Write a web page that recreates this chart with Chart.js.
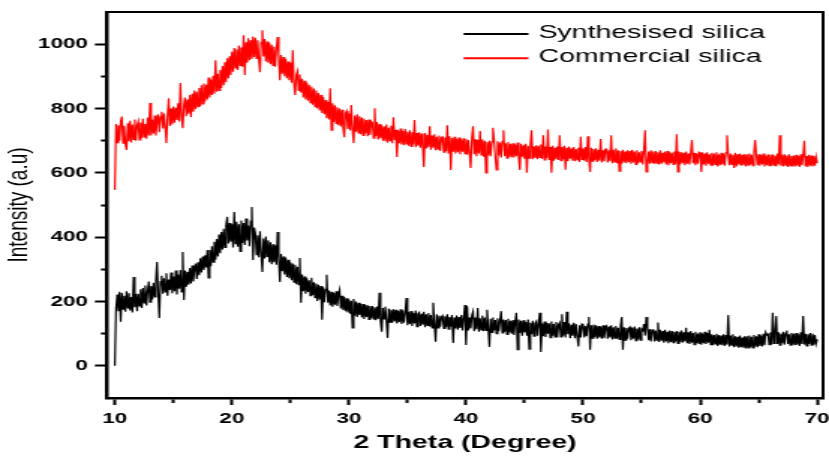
<!DOCTYPE html>
<html>
<head>
<meta charset="utf-8">
<script src="https://cdn.jsdelivr.net/npm/chart.js@4/dist/chart.umd.min.js"></script>
<style>
  html, body { margin: 0; padding: 0; background: #fff; overflow: hidden; }
  #wrap { width: 553px; height: 456px; transform: scaleX(1.4991); transform-origin: 0 0; }
</style>
</head>
<body>
<div id="wrap"><canvas id="c"></canvas></div>
<script>
// ---- data ----
const seriesNames = ['Synthesised silica', 'Commercial silica'];
const seriesColors = ['#000000', '#ff0000'];

// scan grid: 10 to 70 degrees, 0.1 degree step
const twoTheta = Array.from({ length: 601 }, (_, i) => +(10 + i * 0.1).toFixed(1));

const synthesised = [
  0,178,222,170,230,137,226,176,218,168,232,180,226,172,214,166,276,182,224,170,
  224,186,238,180,242,196,250,188,232,262,198,248,206,258,214,266,323,228,149,262,
  280,224,272,230,288,218,268,236,290,226,278,232,296,222,284,240,298,230,354,205,
  296,246,292,252,304,256,312,262,300,318,270,322,282,334,290,340,298,344,306,360,
  273,360,310,372,322,386,330,394,340,408,350,416,362,426,368,436,463,380,444,386,
  440,368,478,380,448,370,440,356,452,382,444,376,458,390,436,372,450,494,329,430,
  412,346,406,338,418,350,292,396,334,402,340,390,322,384,316,378,322,374,314,416,
  334,261,348,294,340,284,336,276,330,272,322,266,318,260,314,254,308,252,335,196,
  284,232,278,224,272,230,266,218,274,220,260,212,256,202,252,206,248,143,244,198,
  238,283,196,234,188,230,184,226,190,232,186,222,236,178,218,174,214,170,210,166,
  206,162,202,118,208,156,200,152,196,158,194,150,192,146,190,152,188,144,186,148,
  186,146,182,142,184,146,227,138,106,180,146,184,140,87,178,136,174,134,176,138,
  174,132,170,136,176,130,172,134,164,211,126,168,130,170,124,164,132,172,122,162,
  166,124,162,128,168,120,160,126,164,122,158,118,196,130,75,160,118,156,122,152,
  156,116,154,120,160,114,152,122,158,71,150,116,156,112,152,118,158,110,150,189,
  65,185,110,150,116,156,168,108,150,114,180,106,148,112,156,108,150,110,174,118,
  59,146,104,150,110,142,100,148,108,140,170,102,144,106,142,98,146,104,140,100,
  142,96,138,165,50,144,102,140,94,142,104,136,94,144,52,134,98,140,92,132,
  138,94,134,165,43,132,92,138,90,134,100,132,88,138,94,130,90,136,88,128,
  134,90,160,94,136,88,168,98,132,86,128,94,134,86,130,92,60,126,88,130,
  128,88,124,92,130,152,50,126,86,128,90,126,84,124,88,122,84,126,86,120,
  124,84,122,88,126,82,120,86,124,84,118,82,122,152,50,120,80,118,84,116,
  120,80,118,84,122,78,116,82,120,80,114,110,130,94,152,118,80,114,76,112,
  114,76,110,80,135,74,112,78,108,72,112,76,106,70,110,74,108,72,106,76,
  108,70,106,74,110,72,104,76,118,70,104,68,108,72,102,66,106,70,100,68,
  104,66,100,70,106,68,102,72,112,66,98,64,96,68,100,62,96,66,94,64,
  98,62,96,66,158,60,94,64,98,58,92,60,90,56,94,58,88,56,92,54,
  92,56,94,58,90,56,96,60,92,58,98,62,94,60,100,64,104,96,98,66,
  104,66,165,70,100,155,68,104,64,100,70,106,66,102,110,68,98,64,102,66,
  100,64,102,66,98,62,104,68,155,66,100,62,98,68,102,64,100,66,96,68,
  82
];

const commercial = [
  547,752,694,748,700,760,775,692,746,688,671,754,698,762,694,750,704,766,700,748,
  760,702,756,708,768,712,752,706,772,716,817,716,766,722,778,716,758,782,726,774,
  790,738,784,742,693,780,832,746,800,750,806,756,802,764,816,760,879,776,739,812,
  834,776,828,784,842,774,846,790,856,798,852,806,864,808,872,814,878,822,874,828,
  896,834,890,842,902,846,950,852,908,856,920,864,932,872,944,882,956,894,962,904,
  976,914,988,926,984,920,996,934,990,930,1028,904,1006,942,1018,950,1012,954,1024,960,
  1020,956,1012,952,913,1006,1043,962,1016,946,1008,942,1004,938,998,934,992,930,986,1022,
  962,888,966,908,960,900,954,894,946,888,942,880,981,876,842,904,916,856,906,850,
  892,834,886,828,880,824,874,818,868,812,862,806,856,800,848,794,842,786,836,782,
  826,770,820,766,863,733,816,758,810,754,804,748,800,744,796,740,711,786,792,736,
  784,732,811,736,693,778,728,782,724,776,720,772,716,768,722,764,714,766,718,760,
  756,708,801,714,758,704,752,708,748,700,744,698,750,694,740,700,746,692,773,702,
  734,649,732,692,738,688,730,686,736,690,728,684,732,682,726,688,764,680,724,684,
  726,678,722,682,618,724,676,718,680,745,672,716,678,720,670,712,674,716,668,710,
  712,664,710,668,748,662,714,609,708,666,712,660,706,664,710,658,704,666,708,660,
  706,656,702,662,615,708,745,658,704,652,702,660,730,656,704,650,700,600,696,654,
  700,652,696,740,702,650,609,698,654,694,648,698,732,652,692,646,696,650,690,648,
  692,648,688,652,694,646,609,690,650,686,644,690,600,684,646,688,732,642,682,646,
  686,642,684,648,688,644,717,640,682,646,735,640,680,600,684,638,678,642,682,640,
  717,638,680,642,684,610,678,636,682,644,676,638,680,636,674,640,678,634,712,642,
  676,638,680,634,714,642,603,678,636,674,640,676,634,672,638,705,632,670,636,674,
  674,632,670,636,717,630,672,634,676,630,670,605,668,628,672,632,666,630,670,634,
  668,628,672,632,666,626,670,630,664,634,668,626,672,732,603,630,666,628,670,632,
  666,628,668,630,664,626,670,628,662,632,666,626,668,624,664,630,662,626,666,628,
  720,603,666,626,664,630,662,624,666,628,660,626,664,702,630,662,624,660,628,664,
  662,603,664,626,660,622,664,628,658,624,662,622,660,626,664,620,658,624,662,626,
  660,622,662,717,658,624,660,626,656,615,662,620,658,626,660,622,656,624,658,620,
  658,624,660,626,656,622,662,702,654,624,658,622,656,626,660,620,654,624,658,622,
  656,622,658,624,654,620,660,626,717,622,656,620,658,624,654,618,658,622,652,620,
  654,620,656,622,652,618,658,624,654,700,620,652,618,656,622,654,620,652,622,650,
  630
];

const xTickLabels = [10, 20, 30, 40, 50, 60, 70];
const xMinorTicks = [15, 25, 35, 45, 55, 65];
const yTickLabels = [0, 200, 400, 600, 800, 1000];
const yMinorTicks = [100, 300, 500, 700, 900];

// ---- chart ----
const FONT = "'Liberation Sans', Arial, Helvetica, sans-serif";
Chart.defaults.font.family = FONT;
Chart.defaults.color = '#000';

const toPoints = (ys) => twoTheta.map((x, i) => ({ x: x, y: ys[i] }));

const insideLegend = {
  id: 'insideLegend',
  afterDraw(chart, args, opts) {
    const { ctx, chartArea } = chart;
    ctx.save();
    ctx.font = opts.font;
    ctx.textBaseline = 'middle';
    ctx.textAlign = 'left';
    chart.data.datasets.forEach((ds, i) => {
      const y = chartArea.top + opts.top + i * opts.rowHeight;
      const x0 = chartArea.right - opts.right;
      ctx.strokeStyle = ds.borderColor;
      ctx.lineWidth = opts.lineWidth;
      ctx.beginPath();
      ctx.moveTo(x0, y);
      ctx.lineTo(x0 + opts.lineLength, y);
      ctx.stroke();
      ctx.fillStyle = '#000';
      ctx.fillText(ds.label, x0 + opts.lineLength + opts.gap, y - 1.5);
    });
    ctx.restore();
  }
};

const frame = {
  id: 'frame',
  afterDraw(chart, args, opts) {
    const { ctx, chartArea } = chart;
    ctx.save();
    ctx.strokeStyle = '#000';
    ctx.lineWidth = opts.width;
    ctx.beginPath();
    ctx.moveTo(chartArea.left, chartArea.top);
    ctx.lineTo(chartArea.right, chartArea.top);
    ctx.lineTo(chartArea.right, chartArea.bottom);
    ctx.stroke();
    ctx.restore();
  }
};

new Chart(document.getElementById('c'), {
  type: 'line',
  data: {
    datasets: [
      { label: seriesNames[0], data: toPoints(synthesised), borderColor: seriesColors[0], backgroundColor: seriesColors[0], borderWidth: 1.2, pointRadius: 0, tension: 0 },
      { label: seriesNames[1], data: toPoints(commercial), borderColor: seriesColors[1], backgroundColor: seriesColors[1], borderWidth: 1.2, pointRadius: 0, tension: 0 }
    ]
  },
  options: {
    responsive: true,
    maintainAspectRatio: false,
    animation: false,
    events: [],
    layout: { padding: { left: 0, top: 12, right: 4, bottom: 0 } },
    plugins: {
      legend: { display: false },
      tooltip: { enabled: false },
      insideLegend: { font: "19px " + FONT, top: 22, rowHeight: 24.3, right: 239.8, lineLength: 43.3, gap: 6.7, lineWidth: 2 },
      frame: { width: 2 }
    },
    scales: {
      x: {
        type: 'linear',
        min: 9.32,
        max: 70.5,
        afterBuildTicks: (s) => { s.ticks = xTickLabels.concat(xMinorTicks).sort((a, b) => a - b).map(v => ({ value: v })); },
        afterFit: (s) => { s.height = 58; s.paddingLeft = 0; s.paddingRight = 0; },
        ticks: {
          autoSkip: false, maxRotation: 0, padding: 5, color: '#000',
          font: { size: 15, weight: 'bold' },
          callback: (v) => xTickLabels.includes(v) ? String(v) : ''
        },
        grid: {
          drawOnChartArea: false, drawTicks: true, tickLength: 7, tickWidth: 2, tickColor: '#000',
          tickBorderDash: (ctx) => (ctx.tick && !xTickLabels.includes(ctx.tick.value)) ? [3.5, 50] : []
        },
        border: { display: true, color: '#000', width: 2.5 },
        title: { display: true, text: '2 Theta (Degree)', color: '#000', font: { size: 19, weight: 'bold' }, padding: { top: 0, bottom: 2 } }
      },
      y: {
        type: 'linear',
        min: -100,
        max: 1100,
        afterBuildTicks: (s) => { s.ticks = yTickLabels.concat(yMinorTicks).sort((a, b) => a - b).map(v => ({ value: v })); },
        afterFit: (s) => { s.width = 71.3; s.paddingTop = 0; s.paddingBottom = 0; },
        ticks: {
          padding: 4.6, color: '#000',
          font: { size: 15, weight: 'bold' },
          callback: (v) => yTickLabels.includes(v) ? String(v) : ''
        },
        grid: {
          drawOnChartArea: false, drawTicks: true, tickLength: 8, tickWidth: 2, tickColor: '#000',
          tickBorderDash: (ctx) => (ctx.tick && !yTickLabels.includes(ctx.tick.value)) ? [0, 4, 10, 50] : []
        },
        border: { display: true, color: '#000', width: 2.5 },
        title: { display: true, text: 'Intensity (a.u)', color: '#000', font: { size: 19, weight: 'normal' }, padding: { top: 1.5, bottom: 0 } }
      }
    }
  },
  plugins: [insideLegend, frame]
});
</script>
</body>
</html>
